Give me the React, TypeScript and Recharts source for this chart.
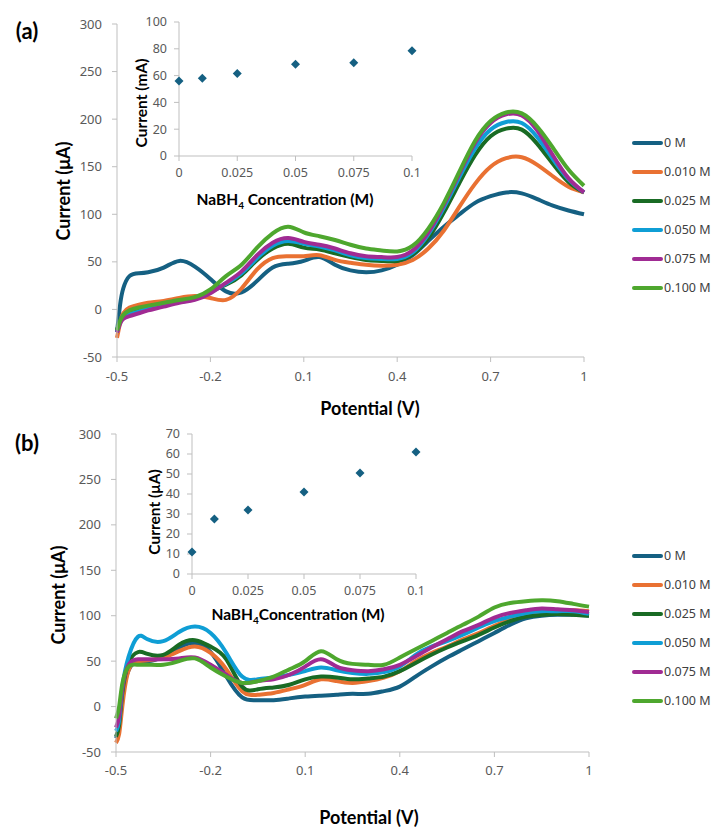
import React from "react"
import {
  LineChart,
  Line,
  XAxis,
  YAxis,
  ScatterChart,
  Scatter,
  Legend,
} from "recharts"

// potential (V) sample points shared by both panels
const POTENTIAL = [
  -0.5, -0.49, -0.48, -0.46, -0.43, -0.4, -0.35, -0.3, -0.25, -0.2, -0.15, -0.1, -0.05, 0,
  0.05, 0.1, 0.15, 0.2, 0.25, 0.3, 0.35, 0.4, 0.45, 0.5, 0.55, 0.6, 0.65, 0.7, 0.75, 0.8,
  0.85, 0.9, 0.95, 1.0,
]

const SERIES_NAMES = ["0 M", "0.010 M", "0.025 M", "0.050 M", "0.075 M", "0.100 M"]
const SERIES_COLORS = ["#156082", "#E97132", "#196B24", "#0F9ED5", "#A02B93", "#4EA72E"]

// panel (a) currents, µA
const A_0M = [-24, 5, 22, 35, 38, 39, 44, 51, 45, 32, 19, 18, 30, 44, 48, 51, 55, 47, 41, 39, 41, 47, 57, 72, 87, 100, 112, 119, 123, 122, 116, 109, 104, 100]
const A_010 = [-30, -14, -4, 2, 5, 7, 9, 12, 14, 12, 10, 22, 42, 54, 56, 56, 57, 52, 49, 47, 46, 47, 52, 64, 83, 108, 132, 150, 159, 160, 152, 140, 129, 123]
const A_025 = [-22, -12, -7, -3, 0, 3, 6, 9, 12, 19, 26, 36, 52, 64, 69, 65, 63, 59, 55, 52, 51, 51, 58, 75, 102, 133, 162, 182, 190, 189, 174, 153, 134, 123]
const A_050 = [-24, -13, -8, -5, -2, 1, 5, 8, 11, 18, 27, 38, 54, 67, 72, 69, 66, 62, 57, 54, 53, 53, 60, 79, 107, 139, 169, 189, 197, 196, 181, 158, 137, 123]
const A_075 = [-24, -15, -10, -7, -4, -1, 3, 7, 10, 17, 28, 40, 57, 70, 75, 71, 68, 64, 59, 56, 55, 55, 62, 81, 110, 143, 175, 196, 205, 204, 188, 162, 138, 123]
const A_100 = [-22, -12, -6, -1, 2, 4, 7, 10, 13, 21, 35, 47, 65, 80, 87, 81, 77, 73, 68, 64, 62, 61, 67, 85, 112, 145, 177, 198, 207, 206, 192, 170, 147, 130]

// panel (b) currents, µA
const B_0M = [-35, -22, 10, 40, 50, 50, 55, 65, 70, 60, 33, 10, 7, 7, 9, 11, 12, 13, 14, 14, 17, 22, 33, 44, 54, 63, 72, 81, 90, 97, 100, 101, 101, 100]
const B_010 = [-40, -30, 0, 40, 50, 51, 54, 61, 66, 59, 41, 17, 13, 15, 19, 24, 30, 28, 26, 28, 32, 39, 50, 59, 66, 74, 81, 89, 96, 101, 104, 105, 106, 105]
const B_025 = [-33, -20, 15, 48, 60, 58, 57, 68, 73, 66, 52, 22, 19, 21, 24, 30, 33, 32, 30, 31, 33, 39, 48, 57, 65, 72, 79, 87, 94, 99, 101, 102, 101, 100]
const B_050 = [-27, -15, 20, 55, 77, 74, 72, 82, 88, 81, 59, 33, 30, 32, 35, 39, 43, 40, 37, 36, 38, 44, 57, 66, 72, 79, 87, 94, 99, 103, 105, 105, 105, 102]
const B_075 = [-23, -10, 20, 46, 52, 52, 52, 53, 54, 46, 35, 26, 28, 30, 35, 44, 52, 44, 40, 39, 41, 46, 55, 65, 74, 83, 90, 98, 103, 106, 108, 107, 106, 104]
const B_100 = [-13, 0, 25, 44, 46, 46, 46, 50, 53, 43, 33, 26, 28, 33, 41, 50, 61, 52, 47, 46, 46, 54, 63, 72, 81, 90, 99, 109, 114, 116, 117, 116, 113, 110]

const POTENTIAL_TICKS = [-0.5, -0.2, 0.1, 0.4, 0.7, 1]
const CURRENT_TICKS = [-50, 0, 50, 100, 150, 200, 250, 300]

// insets: peak current vs NaBH4 concentration
const CONC = [0, 0.01, 0.025, 0.05, 0.075, 0.1]
const CONC_TICKS = [0, 0.025, 0.05, 0.075, 0.1]
const INSET_A_CURRENT = [56, 58, 61.5, 68.5, 69.5, 78.5]
const INSET_B_CURRENT = [11, 27.5, 32, 41, 50.5, 61]
const INSET_A_TICKS = [0, 20, 40, 60, 80, 100]
const INSET_B_TICKS = [0, 10, 20, 30, 40, 50, 60, 70]

const TICK_FONT = "'Noto Sans', sans-serif"
const TITLE_FONT = "Lato, 'Noto Sans', sans-serif"
const AXIS_GREY = "#BFBFBF"

const buildRows = (series: number[][]) =>
  POTENTIAL.map((v, i) => {
    const row: Record<string, number> = { v }
    series.forEach((s, k) => (row["s" + k] = s[i]))
    return row
  })

const rowsA = buildRows([A_0M, A_010, A_025, A_050, A_075, A_100])
const rowsB = buildRows([B_0M, B_010, B_025, B_050, B_075, B_100])

const insetA = CONC.map((c, i) => ({ c, y: INSET_A_CURRENT[i] }))
const insetB = CONC.map((c, i) => ({ c, y: INSET_B_CURRENT[i] }))

const Diamond = (props: any) => {
  const { cx, cy } = props
  const r = 4.5
  return (
    <path
      d={`M${cx},${cy - r}L${cx + r},${cy}L${cx},${cy + r}L${cx - r},${cy}Z`}
      fill="#156082"
    />
  )
}

const renderLegend = () => (
  <div style={{ fontFamily: TICK_FONT, fontSize: 12.5, color: "#404040" }}>
    {SERIES_NAMES.map((name, i) => (
      <div key={name} style={{ display: "flex", alignItems: "center", height: 29 }}>
        <span
          style={{
            display: "inline-block",
            width: 31,
            height: 4,
            borderRadius: 2,
            background: SERIES_COLORS[i],
            marginRight: 1,
          }}
        />
        <span>{name}</span>
      </div>
    ))}
  </div>
)

function Title(props: {
  x: number
  y: number
  size: number
  rotate?: boolean
  children: React.ReactNode
}) {
  return (
    <div
      style={{
        position: "absolute",
        left: props.x,
        top: props.y,
        transform: `translate(-50%, -50%)${props.rotate ? " rotate(-90deg)" : ""}`,
        fontFamily: TITLE_FONT,
        fontWeight: 700,
        fontSize: props.size,
        lineHeight: 1,
        whiteSpace: "nowrap",
        color: "#000",
      }}
    >
      {props.children}
    </div>
  )
}

const tickStyle = { fill: "#595959", fontSize: 13, fontFamily: TICK_FONT }
const insetTickStyle = { fill: "#595959", fontSize: 12.5, fontFamily: TICK_FONT }

function MainPanel(props: {
  rows: Record<string, number>[]
  top: number
  height: number
  margin: { top: number; right: number; bottom: number; left: number }
  tickMargin: number
  legendTop: number
}) {
  return (
    <div style={{ position: "absolute", left: 0, top: props.top }}>
      <LineChart width={715} height={props.height} data={props.rows} margin={props.margin}>
        <XAxis
          dataKey="v"
          type="number"
          domain={[-0.5, 1]}
          ticks={POTENTIAL_TICKS}
          interval={0}
          height={30}
          tick={tickStyle}
          tickSize={5}
          tickMargin={props.tickMargin}
          axisLine={{ stroke: AXIS_GREY }}
          tickLine={{ stroke: AXIS_GREY }}
        />
        <YAxis
          type="number"
          domain={[-50, 300]}
          ticks={CURRENT_TICKS}
          interval={0}
          width={60}
          tick={tickStyle}
          tickSize={5}
          tickMargin={10}
          axisLine={{ stroke: AXIS_GREY }}
          tickLine={{ stroke: AXIS_GREY }}
        />
        {SERIES_NAMES.map((name, k) => (
          <Line
            key={name}
            name={name}
            dataKey={"s" + k}
            type="natural"
            stroke={SERIES_COLORS[k]}
            strokeWidth={4}
            dot={false}
            isAnimationActive={false}
          />
        ))}
        <Legend
          layout="vertical"
          align="center"
          verticalAlign="middle"
          content={renderLegend}
          wrapperStyle={{ left: 632, top: props.legendTop, width: 83 }}
        />
      </LineChart>
    </div>
  )
}

function Inset(props: {
  data: { c: number; y: number }[]
  left: number
  top: number
  margin: { top: number; right: number; bottom: number; left: number }
  domainMax: number
  ticks: number[]
}) {
  return (
    <div style={{ position: "absolute", left: props.left, top: props.top }}>
      <ScatterChart width={330} height={215} margin={props.margin}>
        <XAxis
          dataKey="c"
          type="number"
          domain={[0, 0.1]}
          ticks={CONC_TICKS}
          interval={0}
          height={25}
          tick={insetTickStyle}
          tickSize={5}
          tickMargin={7}
          axisLine={{ stroke: AXIS_GREY }}
          tickLine={{ stroke: AXIS_GREY }}
        />
        <YAxis
          dataKey="y"
          type="number"
          domain={[0, props.domainMax]}
          ticks={props.ticks}
          interval={0}
          width={35}
          tick={insetTickStyle}
          tickSize={5}
          tickMargin={7}
          axisLine={{ stroke: AXIS_GREY }}
          tickLine={{ stroke: AXIS_GREY }}
        />
        <Scatter data={props.data} shape={Diamond} isAnimationActive={false} />
      </ScatterChart>
    </div>
  )
}

export default function App() {
  return (
    <div
      style={{
        position: "absolute",
        left: 0,
        top: 0,
        width: 715,
        height: 830,
        background: "#fff",
        overflow: "hidden",
      }}
    >
      <MainPanel
        rows={rowsA}
        top={0}
        height={415}
        margin={{ top: 24, right: 131, bottom: 28, left: 57 }}
        tickMargin={10}
        legendTop={128}
      />
      <MainPanel
        rows={rowsB}
        top={410}
        height={420}
        margin={{ top: 24, right: 126, bottom: 48, left: 56 }}
        tickMargin={9}
        legendTop={131}
      />

      <Inset
        data={insetA}
        left={100}
        top={0}
        margin={{ top: 22, right: 18, bottom: 34, left: 44 }}
        domainMax={100}
        ticks={INSET_A_TICKS}
      />
      <Inset
        data={insetB}
        left={110}
        top={415}
        margin={{ top: 19, right: 24, bottom: 31, left: 47 }}
        domainMax={70}
        ticks={INSET_B_TICKS}
      />

      <Title x={27} y={31} size={22}>(a)</Title>
      <Title x={63} y={191} size={18} rotate>Current (μA)</Title>
      <Title x={370} y={408} size={18}>Potential (V)</Title>
      <Title x={142} y={103} size={15.5} rotate>Current (mA)</Title>
      <Title x={285} y={201} size={15.5}>
        NaBH<sub style={{ fontSize: 10 }}>4</sub> Concentration (M)
      </Title>

      <Title x={27} y={443} size={22}>(b)</Title>
      <Title x={58} y={595} size={18} rotate>Current (μA)</Title>
      <Title x={369} y={817} size={18}>Potential (V)</Title>
      <Title x={155} y={512} size={15.5} rotate>Current (μA)</Title>
      <Title x={298} y={616} size={15.5}>
        NaBH<sub style={{ fontSize: 10 }}>4</sub>Concentration (M)
      </Title>
    </div>
  )
}
